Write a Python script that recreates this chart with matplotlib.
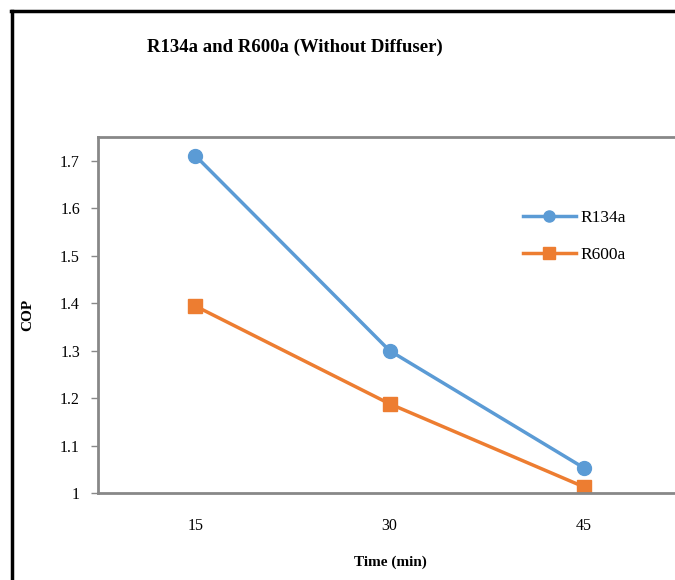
import matplotlib.pyplot as plt
from matplotlib.lines import Line2D

plt.rcParams['font.family'] = ['Liberation Serif', 'DejaVu Serif']

# COP values against time
times = ['15', '30', '45']
cop_r134a = [1.711, 1.300, 1.053]
cop_r600a = [1.394, 1.188, 1.013]
y_ticks = [1, 1.1, 1.2, 1.3, 1.4, 1.5, 1.6, 1.7]
y_tick_labels = ['1', '1.1', '1.2', '1.3', '1.4', '1.5', '1.6', '1.7']

blue = '#5b9bd5'
orange = '#ed7d31'

W, H = 675, 580
fig = plt.figure(figsize=(W / 100, H / 100), dpi=100)

# axes box in pixel units, right edge runs past the figure
left, right, top, bottom = 98, 681, 137, 493
ax = fig.add_axes([left / W, 1 - bottom / H, (right - left) / W, (bottom - top) / H])

x = range(len(times))
ax.plot(x, cop_r134a, color=blue, lw=2.5, marker='o', ms=10)
ax.plot(x, cop_r600a, color=orange, lw=2.5, marker='s', ms=10)

ax.set_xlim(-0.5, 2.5)
ax.set_ylim(1, 1.75)
ax.set_xticks(list(x))
ax.set_xticklabels(times)
ax.set_yticks(y_ticks)
ax.set_yticklabels(y_tick_labels)
ax.tick_params(axis='x', length=0, pad=18, labelsize=11.5)
ax.tick_params(axis='y', length=5, width=1, color='#888888', pad=8, labelsize=11.5)

for side in ['left', 'bottom', 'top', 'right']:
    ax.spines[side].set_color('#888888')
    ax.spines[side].set_linewidth(2)

# legend with smaller markers than the plotted points
handles = [Line2D([], [], color=blue, lw=2.5, marker='o', ms=8),
           Line2D([], [], color=orange, lw=2.5, marker='s', ms=8)]
ax.legend(handles, ['R134a', 'R600a'], loc='upper left', bbox_to_anchor=(0.729, 0.795),
          frameon=False, fontsize=12.5, handlelength=3.05, labelspacing=1.2,
          handletextpad=0.25, borderpad=0, borderaxespad=0)

fig.text(295 / W, 1 - 47 / H, 'R134a and R600a (Without Diffuser)',
         ha='center', va='center', fontsize=13.5, fontweight='bold')
fig.text(390 / W, 1 - 562 / H, 'Time (min)', ha='center', va='center',
         fontsize=11, fontweight='bold')
fig.text(28 / W, 1 - 315 / H, 'COP', ha='center', va='center', rotation=90,
         fontsize=11, fontweight='bold')

# outer frame: top and left edges
fig.add_artist(Line2D([11 / W, 1], [1 - 11 / H, 1 - 11 / H], color='black', lw=2.5,
                      transform=fig.transFigure))
fig.add_artist(Line2D([12 / W, 12 / W], [0, 1 - 11 / H], color='black', lw=2.5,
                      transform=fig.transFigure))

fig.savefig('out.png', dpi=100)
